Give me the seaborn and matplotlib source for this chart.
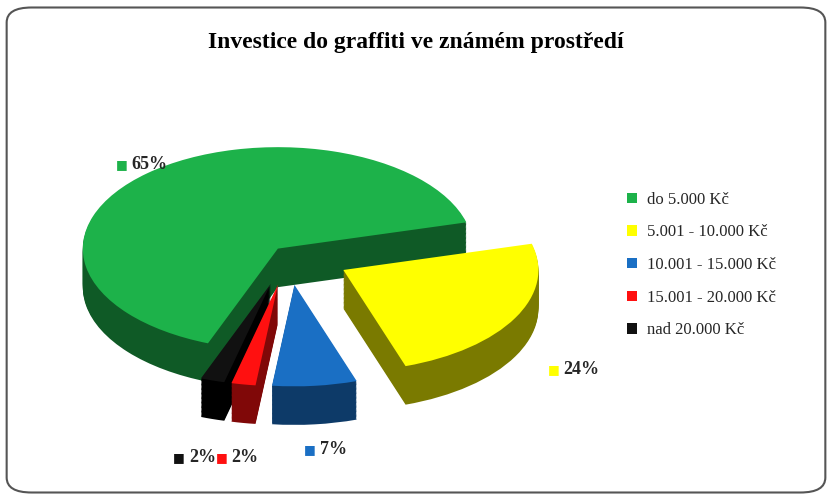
import matplotlib
matplotlib.use("Agg")
import matplotlib.pyplot as plt
import seaborn as sns
import numpy as np
from matplotlib.patches import FancyBboxPatch, Patch

sns.set_theme(style="white")
categories = ["do 5.000 Kč", "5.001 - 10.000 Kč", "10.001 - 15.000 Kč", "15.001 - 20.000 Kč", "nad 20.000 Kč"]
values = [65, 24, 7, 2, 2]
labels = ["65%", "24%", "7%", "2%", "2%"]
colors = ["#1db24a", "#ffff00", "#1a6fc4", "#ff1010", "#111111"]
dark = ["#0f5a26", "#7a7a00", "#0d3a68", "#800808", "#000000"]
explode = [0.08, 0.32, 0.30, 0.30, 0.30]

fig = plt.figure(figsize=(8.32, 5), dpi=100)
fig.patch.set_facecolor("white")
bg = FancyBboxPatch((0.008, 0.015), 0.984, 0.97, boxstyle="round,pad=0,rounding_size=0.03",
                    transform=fig.transFigure, facecolor="none", edgecolor="#555555", lw=1.5, zorder=-5)
fig.patches.append(bg)
fig.text(0.5, 0.915, "Investice do graffiti ve známém prostředí", ha="center", va="center",
         fontsize=17, fontweight="bold", family="Liberation Serif", color="black")

ax = fig.add_axes([0.03, 0.06, 0.68, 0.76])
ax.set_zorder(2)
ax.patch.set_alpha(0)
start = 249
depth = 0.38
nlay = 30
for i in range(nlay, 0, -1):
    off = -depth * i / nlay
    ax.pie(values, colors=dark, explode=explode, startangle=start, counterclock=False,
           center=(0, off), radius=1, wedgeprops=dict(linewidth=0))
ax.pie(values, colors=colors, explode=explode, startangle=start, counterclock=False,
       center=(0, 0), radius=1, wedgeprops=dict(linewidth=0))
ax.set_aspect(0.52)
ax.set_xlim(-1.35, 1.55)
ax.set_ylim(-1.75, 1.25)
ax.axis("off")

cum = start
lab_r = [1.2, 1.6, 1.55, 1.65, 1.7]
for v, lab, c, r, e in zip(values, labels, colors, lab_r, explode):
    mid = np.deg2rad(cum - v * 3.6 / 2)
    cum -= v * 3.6
    x, y = r * np.cos(mid), r * np.sin(mid)
    if y < 0:
        y -= depth
    ax.text(x, y, "■ ", color=c, fontsize=9, ha="right", va="center", family="DejaVu Sans")
    ax.text(x, y, lab, fontsize=13, fontweight="bold", ha="left", va="center", family="Liberation Serif")

handles = [Patch(facecolor=c, edgecolor="none") for c in colors]
fig.legend(handles, categories, loc="center left", bbox_to_anchor=(0.735, 0.47), frameon=False,
           prop=dict(family="Liberation Serif", size=12), handlelength=0.6, handleheight=0.6,
           labelspacing=1.0, handletextpad=0.6)
fig.savefig("out.png", dpi=100)
